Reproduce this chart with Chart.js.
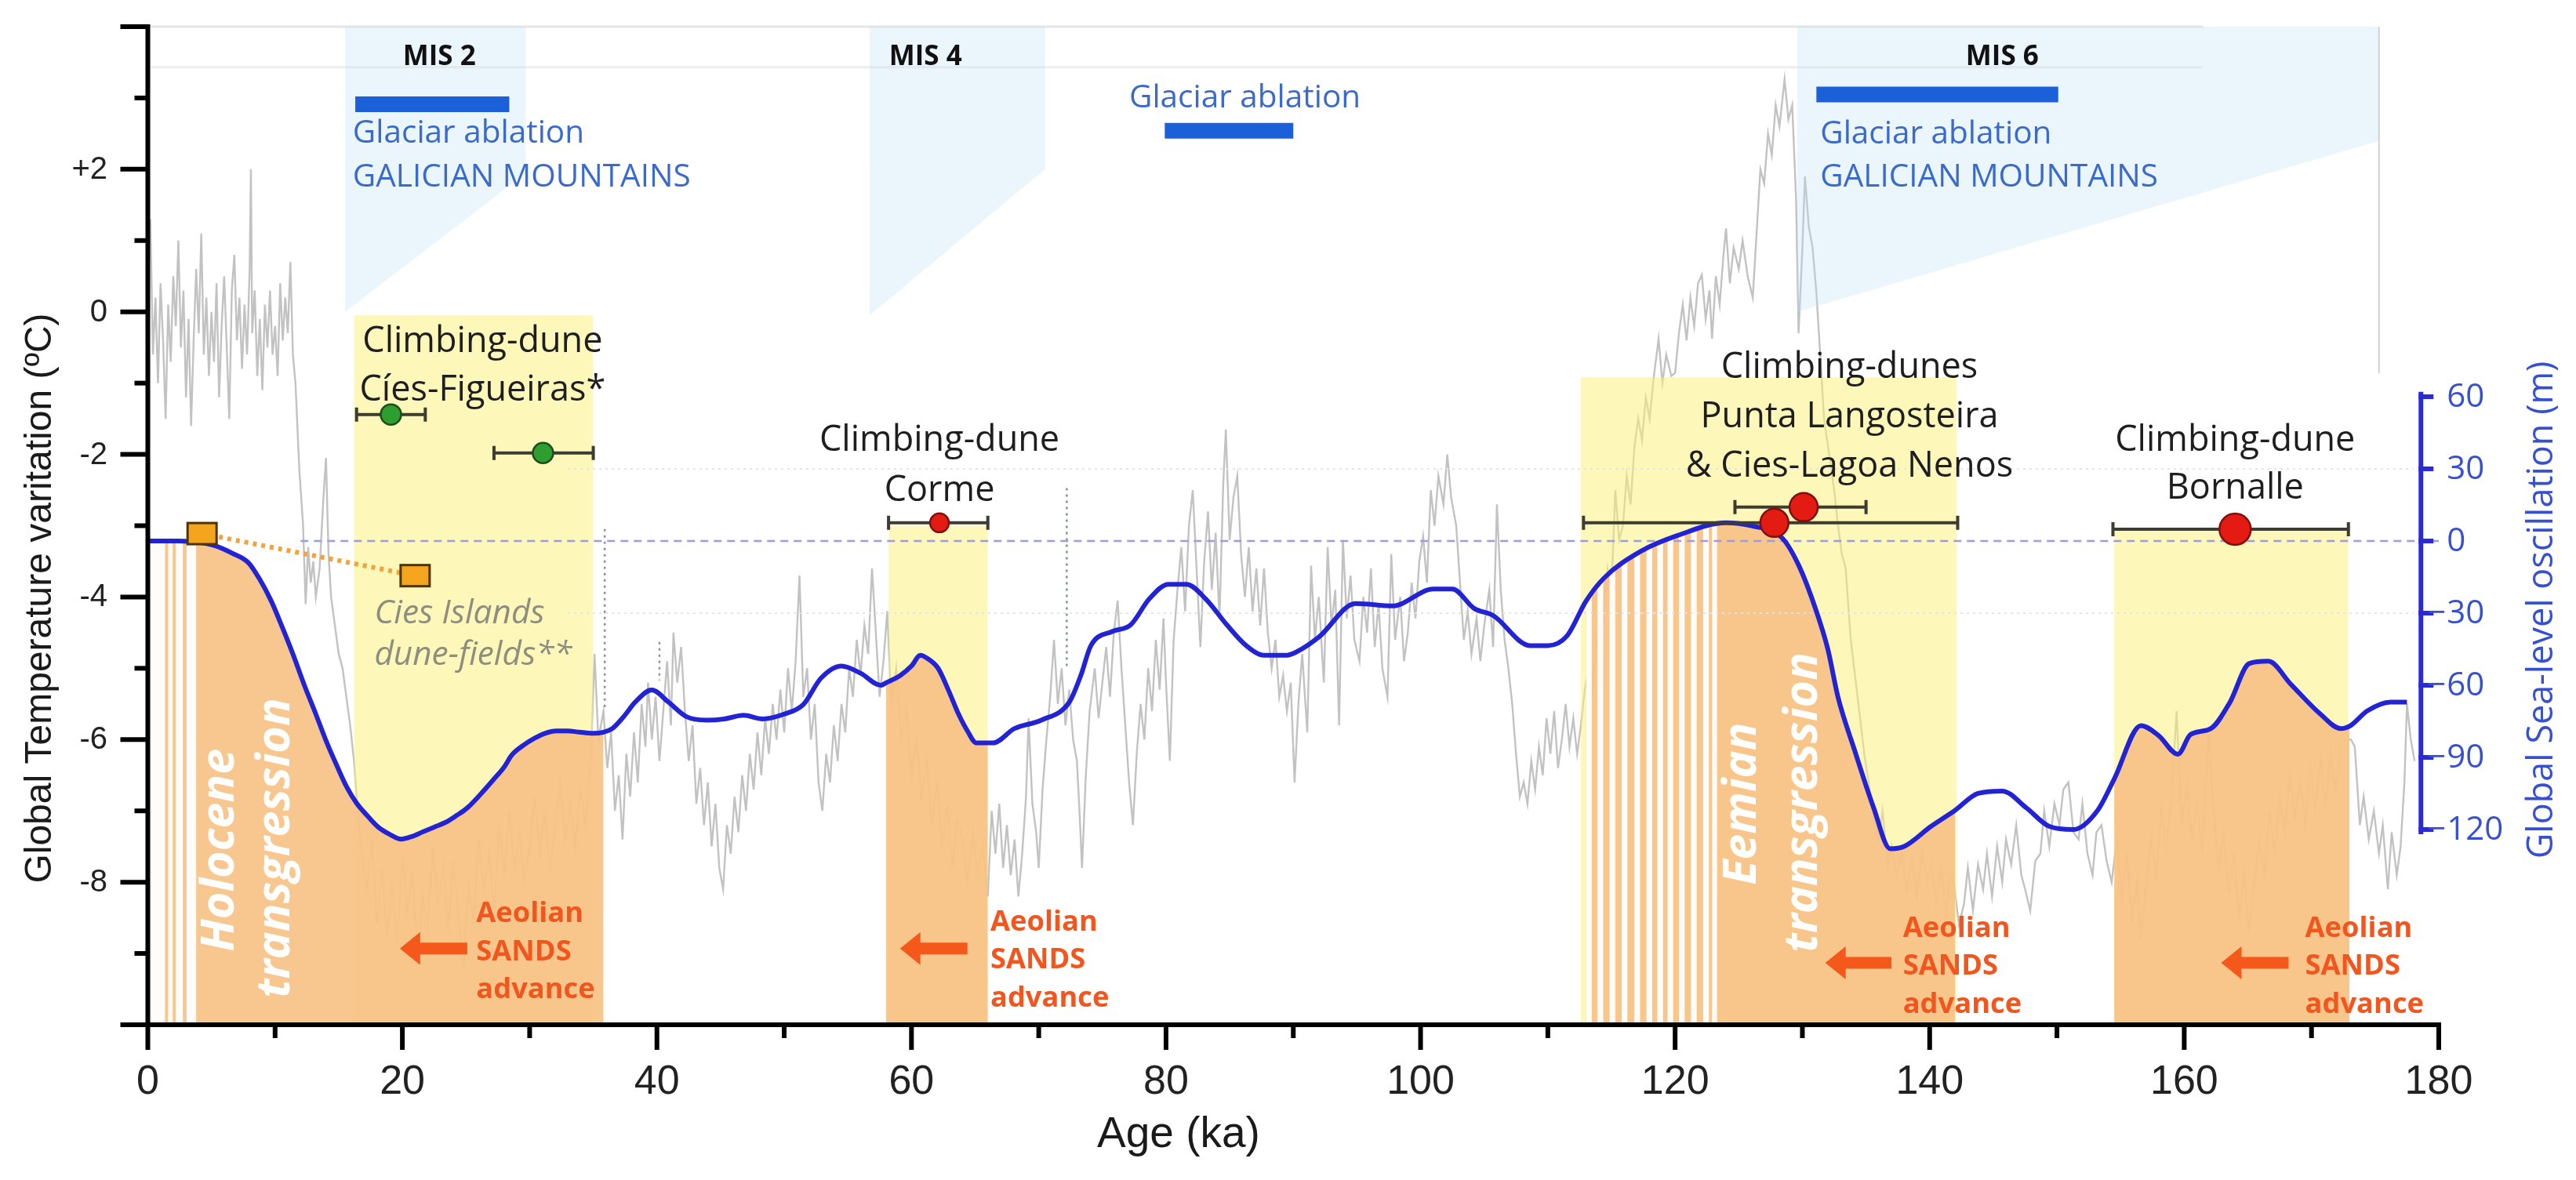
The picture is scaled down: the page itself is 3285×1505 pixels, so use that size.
<!DOCTYPE html>
<html><head><meta charset="utf-8">
<script src="https://cdn.jsdelivr.net/npm/chart.js@4.4.0/dist/chart.umd.min.js"></script>
<style>html,body{margin:0;padding:0;background:#fff;overflow:hidden}canvas{display:block}</style>
</head><body>
<canvas id="c" width="3285" height="1505"></canvas>
<script>
// ================= DATA =================
// Global temperature variation (ºC) vs age (ka) - grey curve
const tempSeries = [
[0.0,0.3],[0.2,1.3],[0.4,-0.6],[0.6,0.2],[0.8,-1.0],[1.0,0.4],[1.2,-0.4],[1.4,-1.5],[1.6,0.1],[1.8,-0.7],[2.0,0.5],[2.2,-0.2],[2.4,1.0],[2.6,-0.5],[2.8,0.3],[3.0,-1.2],[3.2,-0.1],[3.4,-1.6],[3.6,-0.4],[3.8,0.6],[4.0,-0.3],[4.2,1.1],[4.4,-0.6],[4.6,0.2],[4.8,-0.9],[5.0,0.0],[5.2,-0.7],[5.4,0.4],[5.6,-1.2],[5.8,-0.2],[6.0,0.5],[6.2,-0.5],[6.4,-1.5],[6.6,0.3],[6.8,0.8],[7.0,-0.4],[7.2,0.2],[7.4,-0.8],[7.6,0.1],[7.8,-0.6],[8.0,0.6],[8.1,2.0],[8.2,-0.3],[8.4,0.3],[8.6,-0.9],[8.8,-0.1],[9.0,-1.1],[9.2,0.1],[9.4,-0.5],[9.6,0.3],[9.8,-0.6],[10.0,-0.2],[10.2,-0.9],[10.4,0.4],[10.6,-0.4],[10.8,0.2],[11.0,-0.3],[11.2,0.7],[11.4,-0.6],
[11.6,-1.0],[11.9,-2.2],[12.2,-3.0],[12.4,-4.1],[12.6,-3.3],[12.8,-3.8],[13.0,-3.5],[13.2,-4.0],[13.5,-3.6],[13.8,-2.6],[14.0,-2.05],[14.2,-3.4],[14.4,-4.0],[14.7,-4.4],[15.0,-4.8],[15.3,-5.0],[15.6,-5.4],[15.9,-5.8],[16.2,-6.3],[16.5,-7.0],[16.8,-7.6],
[17.2,-8.1],[17.6,-7.4],[18.0,-8.6],[18.4,-7.8],[18.8,-8.8],[19.2,-8.0],[19.6,-8.9],[20.0,-7.6],[20.4,-8.4],[20.8,-7.9],[21.2,-9.0],[21.6,-8.2],[22.0,-8.6],[22.4,-7.5],[22.8,-8.3],[23.2,-7.8],[23.6,-8.7],[24.0,-7.7],[24.4,-8.5],[24.8,-9.2],[25.2,-8.0],[25.6,-8.6],[26.0,-7.4],[26.4,-8.1],[26.8,-7.6],[27.2,-8.4],[27.6,-7.2],[28.0,-7.9],[28.4,-7.0],[28.8,-7.8],[29.2,-7.3],[29.6,-8.0],[30.0,-7.5],[30.4,-6.8],[30.8,-7.6],[31.2,-7.0],[31.6,-7.9],[32.0,-7.2],[32.4,-6.6],[32.8,-7.4],[33.2,-6.9],[33.6,-7.5],[34.0,-6.7],[34.4,-7.2],[34.8,-6.3],[35.1,-4.8],[35.4,-6.0],
[35.8,-5.6],[36.1,-6.4],[36.4,-5.9],[36.7,-7.0],[37.0,-6.5],[37.3,-7.4],[37.6,-6.2],[37.9,-6.8],[38.2,-5.9],[38.5,-6.6],[38.8,-5.5],[39.1,-6.1],[39.3,-5.2],[39.6,-6.0],[39.9,-5.4],[40.2,-6.3],[40.5,-5.6],[40.8,-4.9],[41.1,-5.8],[41.3,-4.5],[41.6,-5.2],[41.9,-4.7],[42.2,-5.6],[42.5,-6.3],[42.8,-5.8],[43.1,-6.9],[43.4,-6.4],[43.7,-7.2],
[44.0,-6.6],[44.3,-7.5],[44.6,-6.9],[44.9,-7.8],[45.2,-8.1],[45.5,-7.2],[45.8,-7.6],[46.1,-6.8],[46.4,-7.3],[46.7,-6.5],[47.0,-7.0],[47.3,-6.2],[47.6,-6.7],[47.9,-5.9],[48.2,-6.5],[48.5,-5.7],[48.8,-6.2],[49.1,-5.5],[49.4,-6.0],[49.7,-5.3],[50.0,-5.9],[50.3,-5.0],[50.6,-5.6],[50.9,-4.9],[51.2,-3.7],[51.5,-5.4],[51.8,-5.0],[52.1,-6.0],[52.4,-5.5],[52.7,-6.6],[53.0,-7.0],[53.3,-6.2],[53.6,-6.6],[53.9,-5.8],[54.2,-6.3],[54.5,-5.5],[54.8,-5.9],[55.1,-5.0],[55.4,-5.4],[55.7,-4.6],[56.0,-5.1],[56.3,-4.4],[56.6,-4.8],[56.9,-3.6],[57.2,-4.5],[57.5,-5.4],[57.8,-4.9],[58.1,-4.2],
[58.4,-5.5],[58.8,-5.0],[59.2,-6.0],[59.6,-5.6],[60.0,-6.5],[60.4,-6.0],[60.8,-6.8],[61.2,-6.3],[61.6,-7.2],[62.0,-6.6],[62.4,-7.5],[62.8,-6.9],[63.2,-7.8],[63.6,-7.1],[64.0,-7.4],[64.4,-8.0],[64.8,-7.3],[65.2,-7.9],[65.6,-7.5],[66.0,-8.2],
[66.3,-7.0],[66.6,-7.6],[66.9,-6.9],[67.2,-7.8],[67.5,-7.2],[67.8,-7.9],[68.1,-7.4],[68.4,-8.2],[68.7,-7.6],[69.0,-6.8],[69.2,-5.7],[69.5,-6.9],[69.8,-7.3],[70.0,-7.8],[70.3,-6.7],[70.6,-6.0],[70.9,-5.4],[71.2,-4.6],[71.5,-5.5],[71.8,-5.0],[72.1,-5.8],[72.4,-5.3],[72.7,-6.0],[73.0,-6.3],[73.2,-7.0],[73.4,-7.8],[73.7,-6.5],[74.0,-5.6],[74.4,-5.0],[74.7,-5.7],[75.0,-5.2],[75.3,-4.7],[75.6,-5.4],[75.9,-4.5],[76.2,-4.05],[76.5,-5.0],[76.8,-5.8],[77.1,-6.6],[77.4,-7.2],[77.7,-6.2],[78.0,-5.5],[78.3,-6.0],[78.6,-5.0],[78.9,-5.6],[79.2,-4.6],[79.5,-5.3],[79.8,-4.3],[80.0,-5.2],[80.3,-6.3],[80.6,-4.6],[80.9,-3.9],[81.2,-3.3],[81.5,-4.2],[81.8,-3.0],[82.1,-2.5],[82.4,-3.6],[82.7,-4.7],[83.0,-3.5],[83.3,-2.8],[83.6,-3.9],[83.9,-3.1],[84.2,-4.3],[84.5,-2.4],[84.7,-1.65],[85.0,-3.2],[85.3,-2.6],[85.6,-2.3],[85.9,-3.4],[86.2,-4.0],[86.5,-3.3],[86.8,-4.2],[87.1,-3.6],[87.4,-4.4],[87.7,-3.6],[88.0,-4.5],[88.3,-5.0],[88.6,-4.6],[88.9,-5.4],[89.2,-5.1],[89.5,-5.6],
[89.8,-5.2],[90.1,-6.6],[90.4,-5.5],[90.7,-4.8],[91.1,-5.9],[91.4,-3.56],[91.7,-4.6],[92.0,-4.0],[92.4,-5.2],[92.7,-3.3],[93.0,-4.4],[93.3,-3.9],[93.6,-5.8],[93.9,-3.2],[94.2,-4.3],[94.5,-3.7],[94.8,-4.6],[95.2,-4.9],[95.5,-4.0],[95.8,-4.5],[96.1,-3.6],[96.4,-4.7],[96.7,-4.1],[97.0,-5.0],[97.4,-5.4],[97.7,-3.4],[98.0,-4.6],[98.4,-4.0],[98.7,-4.9],[99.0,-4.5],[99.3,-3.8],[99.6,-4.3],[99.9,-3.5],[100.2,-3.15],[100.5,-3.8],[100.8,-2.5],[101.1,-3.0],[101.4,-2.3],[101.8,-2.7],[102.1,-2.0],[102.4,-2.6],[102.8,-3.0],[103.1,-3.8],[103.4,-4.6],[103.7,-4.2],[104.0,-4.8],[104.4,-4.3],[104.7,-4.9],[105.0,-4.4],[105.4,-3.9],[105.7,-4.7],[106.0,-2.7],[106.3,-3.9],[106.6,-4.6],[106.9,-5.0],[107.2,-5.5],[107.5,-6.2],[107.8,-6.8],[108.1,-6.6],[108.4,-6.9],[108.7,-6.3],[109.0,-6.7],[109.3,-6.1],[109.6,-6.5],[109.9,-5.7],[110.2,-6.2],[110.5,-5.6],[110.8,-6.4],[111.1,-6.0],[111.4,-5.5],[111.7,-6.1],[112.0,-5.7],[112.3,-6.2],[112.6,-5.8],[112.9,-5.3],
[113.2,-5.0],[113.5,-5.4],[113.8,-4.6],[114.1,-4.9],[114.4,-4.2],[114.7,-3.6],[115.0,-3.9],[115.3,-2.5],[115.6,-3.2],[115.9,-3.0],[116.2,-2.3],[116.5,-2.7],[116.8,-1.9],[117.1,-1.5],[117.4,-1.8],[117.7,-1.2],[118.0,-1.5],[118.3,-0.95],[118.7,-0.38],[119.0,-1.0],[119.3,-0.6],[119.7,-0.9],[120.0,-0.86],[120.3,-0.3],[120.6,0.1],[120.9,-0.4],[121.2,0.2],[121.5,-0.2],[121.8,0.4],[122.1,0.52],[122.4,-0.1],[122.7,0.3],[122.9,-0.38],[123.2,0.5],[123.5,0.1],[123.8,0.8],[124.0,1.17],[124.3,0.4],[124.6,0.9],[125.0,0.6],[125.3,1.0],[125.7,0.5],[126.1,0.2],[126.4,1.1],[126.7,2.0],[127.0,1.8],[127.3,2.5],[127.6,2.2],[127.9,2.9],[128.2,2.6],[128.6,3.26],[128.9,2.7],[129.2,2.9],[129.5,1.6],[129.7,-0.3],[130.0,0.9],[130.2,1.9],[130.5,1.2],[130.8,0.9],[131.1,0.27],[131.4,-0.6],[131.7,-1.5],[132.1,-2.0],[132.5,-2.5],[132.8,-3.0],[133.1,-3.4],[133.4,-3.6],[133.8,-4.6],
[134.2,-5.2],[134.6,-5.8],[134.9,-6.25],[135.3,-6.7],[135.6,-7.1],[136.0,-7.4],[136.3,-7.0],[136.7,-7.8],[137.0,-7.5],[137.4,-7.9],[137.8,-7.6],[138.2,-8.1],[138.6,-7.7],[139.0,-8.2],[139.4,-7.6],[139.8,-8.0],[140.1,-7.75],[140.5,-8.3],[140.9,-7.8],[141.3,-8.5],[141.6,-7.9],[141.9,-8.0],[142.3,-8.6],[142.7,-8.3],[143.0,-7.8],[143.4,-8.4],[143.8,-7.75],[144.2,-8.1],[144.5,-7.6],[144.9,-8.2],[145.3,-7.5],[145.7,-8.0],[146.0,-7.4],[146.4,-7.75],[146.8,-7.2],[147.2,-7.9],[147.5,-8.1],[147.9,-8.4],[148.3,-7.7],[148.7,-7.6],[149.0,-7.0],[149.4,-7.5],[149.8,-6.9],[150.2,-7.2],[150.5,-6.7],[150.9,-6.6],[151.3,-7.3],[151.7,-7.4],[152.0,-6.9],[152.4,-7.6],[152.8,-7.9],[153.1,-7.3],[153.5,-7.2],[153.9,-7.7],[154.3,-8.0],
[154.7,-7.4],[155.1,-8.2],[155.5,-7.6],[155.9,-8.5],[156.3,-8.0],[156.6,-8.8],[157.0,-8.1],[157.4,-7.4],[157.8,-7.9],[158.2,-7.0],[158.6,-7.5],[159.0,-6.8],[159.4,-5.6],[159.8,-7.2],[160.2,-6.6],[160.6,-7.4],[161.0,-6.9],[161.4,-7.6],[161.9,-5.9],[162.3,-7.0],[162.7,-7.8],[163.1,-7.3],[163.5,-8.2],[163.9,-7.6],[164.3,-8.5],[164.7,-7.9],[165.1,-8.7],[165.5,-8.0],[165.9,-7.4],[166.3,-7.9],[166.7,-7.0],[167.1,-7.6],[167.5,-6.8],[167.9,-7.3],[168.3,-6.5],[168.7,-7.1],[169.1,-6.6],[169.5,-7.2],[169.9,-6.4],[170.3,-7.0],[170.7,-6.3],[171.1,-6.9],[171.5,-6.2],[171.9,-6.7],[172.3,-6.1],[172.7,-6.0],
[173.1,-6.0],[173.4,-6.1],[173.8,-7.2],[174.1,-6.8],[174.5,-7.4],[174.9,-7.0],[175.3,-7.6],[175.6,-7.2],[176.0,-8.1],[176.3,-7.3],[176.7,-7.9],[177.0,-7.5],[177.3,-6.6],[177.5,-5.5],[177.8,-6.0],[178.1,-6.3]
];
// Global sea-level oscillation (m) vs age (ka) - blue curve
const seaSeries = [
[0,0],[2.4,0],[4,-0.5],[5.3,-2],[6.6,-5],[7.9,-9],[8.8,-16],[9.7,-25],[10.5,-35],[11.4,-47],[12.3,-60],[13.2,-72],[14.0,-83],[14.9,-94],[15.6,-102],[16.4,-109],[17.2,-114],[18.1,-119],[19.0,-122],[19.9,-124],[20.7,-123],[21.6,-121],[22.5,-119],[23.4,-117],[24.3,-114],[25.1,-111],[26.2,-105],[27.2,-99],[28.0,-94],[28.6,-89],[29.5,-85],[30.4,-82],[31.2,-80],[32.1,-79],[33.0,-79],[33.9,-79.5],[35.0,-80],[35.8,-79.5],[36.5,-78],[37.4,-73],[38.3,-67],[39.6,-62],[40.9,-67],[42.3,-73],[43.9,-74.5],[45.3,-74],[46.8,-72.5],[48.3,-74],[50.0,-72],[51.5,-68],[52.9,-57],[54.5,-52],[56.0,-55],[57.6,-60],[58.0,-59],[59.1,-56],[60.0,-52],[60.7,-47.5],[61.3,-49],[62.1,-53],[62.9,-62],[63.7,-72],[64.4,-79],[65.1,-84],[66.0,-84],[66.4,-84],[68.1,-78],[70.2,-74.5],[72.4,-67],[73.3,-56],[74.1,-43.5],[75.8,-37.6],[77.2,-35],[78.7,-24],[80.2,-18],[81.6,-18],[83.1,-24],[84.8,-35],[86.3,-43.5],[87.7,-47.5],[89.5,-47.5],[90.3,-46],[92.0,-40],[94.9,-26],[97.8,-27],[101.0,-20],[102.5,-20],[104.2,-28],[105.7,-31],[108.6,-43.5],[110.0,-43.5],[111.5,-39.5],[113.0,-25],[114.4,-15.5],[117.3,-4.3],[120.2,2.3],[124.0,7.6],[126.0,6.3],[128.4,1.3],[129.7,-10],[131.0,-27.7],[132.0,-45],[132.8,-65],[134.1,-87],[135.6,-111],[136.9,-128],[138.0,-127],[140.1,-118.7],[142.0,-112],[143.8,-105],[145.7,-104],[147.6,-111],[149.4,-118.7],[151.3,-120],[153.2,-112],[154.5,-99],[156.6,-76.8],[158.0,-81],[159.5,-88.7],[160.5,-80.5],[162.1,-78],[163.6,-67],[165.1,-51],[166.6,-50],[168.4,-59.7],[170.7,-72],[172.3,-78],[173.0,-77],[174.4,-70.6],[176.2,-67],[177.5,-67]
];
const xTickLabels = [0,20,40,60,80,100,120,140,160,180];
const tempTickLabels = ['+2','0','-2','-4','-6','-8'];
const tempTickValues = [2,0,-2,-4,-6,-8];
const seaTickValues = [60,30,0,-30,-60,-90,-120];
// aeolian sand advance periods (ka)
const aeolianRanges = [[0,35.8],[58,66],[113,142],[154.5,173]];
// climbing-dune age windows: [from, to, upper level ºC]
const duneWindows = [[16.2,35.0,-0.05],[58.2,66.0,-3.0],[112.6,142.1,-0.92],[154.5,172.9,-3.08]];
// marine isotope stages: [from, to, lower edge at from, lower edge at to]
const misZones = [[15.5,29.7,0,1.95],[56.7,70.5,-0.05,2.0],[129.6,175.3,0,2.4]];
const misLabels = ['MIS 2','MIS 4','MIS 6'];
// glacier ablation periods: [from, to, level]
const glacierAblation = [[16.3,28.4,2.91],[79.9,90.0,2.54],[131.1,150.1,3.05]];
// Cíes-Figueiras ages: [age, min, max, level]
const ciesFigueirasAges = [[19.1,16.4,21.8,-1.44],[31.05,27.2,35.0,-1.98]];
// Corme, Punta Langosteira (2), Bornalle ages: [age, min, max, level]
const redAges = [[62.2,58.2,66.0,-2.96],[127.8,112.8,142.2,-2.96],[130.1,124.7,135.0,-2.74],[164.0,154.4,172.9,-3.05]];
// Cies Islands dune-fields ages: [age, level]
const ciesIslandsAges = [[4.26,-3.11],[21.0,-3.70]];
// transgression bands (white stripes, ka ranges)
const holoceneStripes = [[0,1.35],[1.6,1.95],[2.2,2.75],[3.05,3.8]];
const eemianStripes = [[113.0,113.45],[113.9,114.35],[114.85,115.3],[115.8,116.25],[116.8,117.25],[117.75,118.2],[118.6,119.05],[119.4,119.85],[120.3,120.75],[121.25,121.7],[122.2,122.65],[122.9,123.3]];

// ================= STYLE / BUILD =================
const P = a => a.map(p => ({x:p[0], y:p[1]}));
const redRadius = [12,18,18,20];
const datasets = [];
const base = {type:'line', pointRadius:0, borderWidth:0, fill:false, tension:0};

datasets.push({...base, data:[{x:0,y:4},{x:161.5,y:4}], yAxisID:'yT', borderColor:'#e6e6e6', borderWidth:3, order:130, clip:false});
datasets.push({...base, data:[{x:0,y:3.43},{x:161.5,y:3.43}], yAxisID:'yT', borderColor:'#eeeeee', borderWidth:3, order:130});
datasets.push({...base, data:[{x:175.3,y:4},{x:175.3,y:-0.86}], yAxisID:'yT', borderColor:'#d0d0d0', borderWidth:2, order:130});
datasets.push({...base, data:P(tempSeries), yAxisID:'yT', borderColor:'#c2c2c2', borderWidth:2.4, order:100});
duneWindows.forEach(w => datasets.push({...base, data:[{x:w[0],y:w[2]},{x:w[1],y:w[2]}], yAxisID:'yT', fill:'start', backgroundColor:'rgba(252,240,120,0.52)', order:90}));
misZones.forEach(z => datasets.push({...base, data:[{x:z[0],y:z[2]},{x:z[1],y:z[3]}], yAxisID:'yT', fill:'end', backgroundColor:'rgba(185,222,245,0.3)', order:85}));
aeolianRanges.forEach((r,i) => {
  const d = seaSeries.filter(p => p[0] >= r[0] && p[0] <= r[1]);
  const ds = {...base, data:P(d), yAxisID:'yS', fill:'start', backgroundColor:'rgba(247,193,133,0.92)', cubicInterpolationMode:'monotone', order:80};
  if (i === 0) ds.stripes = holoceneStripes;
  if (i === 2) ds.stripes = eemianStripes;
  datasets.push(ds);
});
datasets.push({...base, data:[{x:12,y:0},{x:180,y:0}], yAxisID:'yS', borderColor:'#9c9ce0', borderWidth:2.5, borderDash:[10,7], order:70});
datasets.push({...base, data:[{x:33,y:30},{x:178,y:30}], yAxisID:'yS', borderColor:'#e4e4e4', borderWidth:2, borderDash:[3,5], order:70});
datasets.push({...base, data:[{x:33,y:-30},{x:178,y:-30}], yAxisID:'yS', borderColor:'#e4e4e4', borderWidth:2, borderDash:[3,5], order:70});
datasets.push({...base, data:[{x:35.9,y:5},{x:35.9,y:-70}], yAxisID:'yS', borderColor:'#8f8f9f', borderWidth:2.5, borderDash:[3,5], order:70});
datasets.push({...base, data:[{x:40.2,y:-42},{x:40.2,y:-58}], yAxisID:'yS', borderColor:'#8f8f9f', borderWidth:2.5, borderDash:[3,5], order:70});
datasets.push({...base, data:[{x:72.2,y:22},{x:72.2,y:-53}], yAxisID:'yS', borderColor:'#6ea46e', borderWidth:2.5, borderDash:[3,5], order:70});
datasets.push({...base, data:P(seaSeries), yAxisID:'yS', borderColor:'#2323d6', borderWidth:6, cubicInterpolationMode:'monotone', order:50});
glacierAblation.forEach(g => datasets.push({...base, data:[{x:g[0],y:g[2]},{x:g[1],y:g[2]}], yAxisID:'yT', borderColor:'#1b5fd9', borderWidth:20, borderCapStyle:'butt', order:40}));
datasets.push({...base, data:P(ciesIslandsAges), yAxisID:'yT', borderColor:'#f2a33a', borderWidth:6, borderDash:[5,6], order:36});
[...ciesFigueirasAges, ...redAges].forEach(a => datasets.push({...base, data:[{x:a[1],y:a[3]},{x:a[2],y:a[3]}], yAxisID:'yT', borderColor:'#3c3c32', borderWidth:4, pointStyle:'line', pointRotation:90, pointRadius:9, pointBorderWidth:4, pointBorderColor:'#3c3c32', order:30}));
const sq = document.createElement('canvas'); sq.width = 42; sq.height = 32;
(function(){const c = sq.getContext('2d'); c.fillStyle='#f5a41e'; c.fillRect(2,2,38,28); c.strokeStyle='#4d3300'; c.lineWidth=3; c.strokeRect(2.5,2.5,37,27);})();
datasets.push({...base, showLine:false, data:P(ciesIslandsAges), yAxisID:'yT', pointStyle:sq, pointRadius:16, order:20});
datasets.push({...base, showLine:false, data:ciesFigueirasAges.map(a=>({x:a[0],y:a[3]})), yAxisID:'yT', pointStyle:'circle', pointRadius:13, pointBackgroundColor:'#2f9e31', pointBorderColor:'#1d4d1d', pointBorderWidth:2.5, order:20});
datasets.push({...base, showLine:false, data:redAges.map(a=>({x:a[0],y:a[3]})), yAxisID:'yT', pointStyle:'circle', pointRadius:redRadius, pointBackgroundColor:'#e41b12', pointBorderColor:'#7a1010', pointBorderWidth:2.5, order:20});

// ================= ANNOTATIONS (layout) =================
const OS = '"Open Sans", "DejaVu Sans", sans-serif';
const LS = '"Liberation Sans", Arial, sans-serif';
const fontGroups = {
  mis:   ['bold {s}px '+OS, 'MIS 6', 93],
  glac:  ['{s}px '+OS, 'GALICIAN MOUNTAINS', 431],
  dune:  ['{s}px '+OS, 'Climbing-dune', 306],
  cies:  ['italic {s}px '+OS, 'dune-fields**', 252],
  trans: ['italic bold {s}px '+OS, 'transgression', 383],
  aeol:  ['bold {s}px '+OS, 'Aeolian', 137]
};
const notes = [
  {t:misLabels[0], x:22.9, y:3.57, g:'mis', c:'#111', a:'center', b:'middle'},
  {t:misLabels[1], x:61.1, y:3.57, g:'mis', c:'#111', a:'center', b:'middle'},
  {t:misLabels[2], x:145.7, y:3.57, g:'mis', c:'#111', a:'center', b:'middle'},
  {t:'Glaciar ablation', x:16.1, y:2.37, g:'glac', c:'#3a6bcc', a:'left'},
  {t:'GALICIAN MOUNTAINS', x:16.1, y:1.76, g:'glac', c:'#3a6bcc', a:'left'},
  {t:'Glaciar ablation', x:86.2, y:2.87, g:'glac', c:'#3a6bcc', a:'center'},
  {t:'Glaciar ablation', x:131.4, y:2.36, g:'glac', c:'#3a6bcc', a:'left'},
  {t:'GALICIAN MOUNTAINS', x:131.4, y:1.76, g:'glac', c:'#3a6bcc', a:'left'},
  {t:'Climbing-dune', x:26.3, y:-0.56, g:'dune', c:'#1e1e1e', a:'center'},
  {t:'Cíes-Figueiras*', x:26.3, y:-1.25, g:'dune', c:'#1e1e1e', a:'center'},
  {t:'Climbing-dune', x:62.2, y:-1.95, g:'dune', c:'#1e1e1e', a:'center'},
  {t:'Corme', x:62.2, y:-2.65, g:'dune', c:'#1e1e1e', a:'center'},
  {t:'Climbing-dunes', x:133.7, y:-0.93, g:'dune', c:'#1e1e1e', a:'center'},
  {t:'Punta Langosteira', x:133.7, y:-1.62, g:'dune', c:'#1e1e1e', a:'center'},
  {t:'& Cies-Lagoa Nenos', x:133.7, y:-2.31, g:'dune', c:'#1e1e1e', a:'center'},
  {t:'Climbing-dune', x:164.0, y:-1.95, g:'dune', c:'#1e1e1e', a:'center'},
  {t:'Bornalle', x:164.0, y:-2.62, g:'dune', c:'#1e1e1e', a:'center'},
  {t:'Cies Islands', x:17.8, y:-4.37, g:'cies', c:'#8d8d80', a:'left'},
  {t:'dune-fields**', x:17.8, y:-4.95, g:'cies', c:'#8d8d80', a:'left'},
  {t:'Holocene', x:5.73, y:-7.55, g:'trans', c:'#ffffff', a:'center', b:'middle', r:true},
  {t:'transgression', x:10.07, y:-7.52, g:'trans', c:'#ffffff', a:'center', b:'middle', r:true},
  {t:'Eemian', x:125.3, y:-6.9, g:'trans', c:'#ffffff', a:'center', b:'middle', r:true},
  {t:'transgression', x:130.1, y:-6.88, g:'trans', c:'#ffffff', a:'center', b:'middle', r:true}
];
const aeolianNotes = [[25.8,[-8.56,-9.10,-9.63]],[66.2,[-8.68,-9.21,-9.75]],[137.9,[-8.77,-9.30,-9.84]],[169.5,[-8.77,-9.30,-9.84]]];
const aeolianWords = ['Aeolian','SANDS','advance'];
const arrows = [[19.8,25.1,-8.93],[59.1,64.4,-8.93],[131.8,137.0,-9.13],[162.9,168.2,-9.13]];

function groupFont(ctx, key){
  const g = fontGroups[key];
  if (!g.font) {
    ctx.save(); ctx.font = g[0].replace('{s}', 100);
    const w = ctx.measureText(g[1]).width; ctx.restore();
    g.font = g[0].replace('{s}', (100 * g[2] / w).toFixed(1));
  }
  return g.font;
}

const stripePlugin = {
  id:'stripes',
  afterDatasetDraw(chart, args){
    const ds = chart.data.datasets[args.index];
    if (!ds.stripes) return;
    const pts = args.meta.data, ca = chart.chartArea, xs = chart.scales.x, ctx = chart.ctx;
    ctx.save();
    ctx.beginPath(); ctx.rect(ca.left, ca.top, ca.right-ca.left, ca.bottom-ca.top); ctx.clip();
    ctx.beginPath(); ctx.moveTo(pts[0].x, ca.bottom);
    pts.forEach(p => ctx.lineTo(p.x, p.y));
    ctx.lineTo(pts[pts.length-1].x, ca.bottom); ctx.closePath(); ctx.clip();
    ctx.fillStyle = 'rgba(255,255,255,0.95)';
    ds.stripes.forEach(s => { const x0 = xs.getPixelForValue(s[0]), x1 = xs.getPixelForValue(s[1]); ctx.fillRect(x0, ca.top, x1 - x0, ca.bottom - ca.top); });
    ctx.restore();
  }
};

const annotPlugin = {
  id:'annot',
  afterDatasetsDraw(chart){
    const ctx = chart.ctx, xs = chart.scales.x, yT = chart.scales.yT;
    ctx.save();
    notes.forEach(n => {
      const px = xs.getPixelForValue(n.x), py = yT.getPixelForValue(n.y);
      ctx.font = groupFont(ctx, n.g); ctx.fillStyle = n.c; ctx.textAlign = n.a; ctx.textBaseline = n.b || 'alphabetic';
      if (n.r) { ctx.save(); ctx.translate(px, py); ctx.rotate(-Math.PI/2); ctx.fillText(n.t, 0, 0); ctx.restore(); }
      else ctx.fillText(n.t, px, py);
    });
    ctx.font = groupFont(ctx, 'aeol'); ctx.fillStyle = '#f0561e'; ctx.textAlign = 'left'; ctx.textBaseline = 'alphabetic';
    aeolianNotes.forEach(a => aeolianWords.forEach((w,i) => ctx.fillText(w, xs.getPixelForValue(a[0]), yT.getPixelForValue(a[1][i]))));
    ctx.fillStyle = '#f4581a';
    arrows.forEach(a => {
      const xt = xs.getPixelForValue(a[0]), xe = xs.getPixelForValue(a[1]), y = yT.getPixelForValue(a[2]);
      const hl = 26, hh = 21, sw = 7.5;
      ctx.beginPath(); ctx.moveTo(xt, y); ctx.lineTo(xt+hl, y-hh); ctx.lineTo(xt+hl, y-sw); ctx.lineTo(xe, y-sw);
      ctx.lineTo(xe, y+sw); ctx.lineTo(xt+hl, y+sw); ctx.lineTo(xt+hl, y+hh); ctx.closePath(); ctx.fill();
    });
    ctx.restore();
  }
};

const axesPlugin = {
  id:'axes',
  afterDraw(chart){
    const ctx = chart.ctx, xs = chart.scales.x, yT = chart.scales.yT, yS = chart.scales.yS, ca = chart.chartArea;
    ctx.save();
    ctx.strokeStyle = '#000'; ctx.lineWidth = 6; ctx.lineCap = 'butt';
    ctx.beginPath(); ctx.moveTo(ca.left, yT.getPixelForValue(4)-3); ctx.lineTo(ca.left, ca.bottom+3); ctx.stroke();
    for (let v = -10; v <= 4; v++) {
      const y = yT.getPixelForValue(v), len = (v % 2 === 0) ? 35 : 17;
      ctx.beginPath(); ctx.moveTo(ca.left, y); ctx.lineTo(ca.left - len, y); ctx.stroke();
    }
    ctx.beginPath(); ctx.moveTo(ca.left, ca.bottom); ctx.lineTo(xs.getPixelForValue(180)+3, ca.bottom); ctx.stroke();
    for (let k = 0; k <= 180; k += 10) {
      const x = xs.getPixelForValue(k), len = (k % 20 === 0) ? 32 : 17;
      ctx.beginPath(); ctx.moveTo(x, ca.bottom); ctx.lineTo(x, ca.bottom + len); ctx.stroke();
    }
    const rx = xs.getPixelForValue(178.6);
    ctx.strokeStyle = '#2a2ad6';
    ctx.beginPath(); ctx.moveTo(rx, yS.getPixelForValue(62)); ctx.lineTo(rx, yS.getPixelForValue(-122)); ctx.stroke();
    seaTickValues.forEach(v => { const y = yS.getPixelForValue(v); ctx.beginPath(); ctx.moveTo(rx-3, y); ctx.lineTo(rx + 16, y); ctx.stroke(); });
    ctx.fillStyle = '#222'; ctx.font = '52px '+LS; ctx.textAlign = 'center'; ctx.textBaseline = 'middle';
    xTickLabels.forEach(k => ctx.fillText(String(k), xs.getPixelForValue(k), 1381));
    ctx.font = '40px '+LS; ctx.textAlign = 'right';
    tempTickValues.forEach((v,i) => ctx.fillText(tempTickLabels[i], 137, yT.getPixelForValue(v) + 1));
    ctx.fillStyle = '#3650d0'; ctx.font = '42px '+OS;
    seaTickValues.forEach(v => {
      const y = yS.getPixelForValue(v) + 1;
      ctx.textAlign = 'left'; ctx.fillText(String(Math.abs(v)), rx + 33, y);
      if (v < 0) { ctx.textAlign = 'right'; ctx.fillText('\u2212', rx + 32, y); }
    });
    ctx.fillStyle = '#1a1a1a'; ctx.font = '55px '+LS; ctx.textAlign = 'center'; ctx.textBaseline = 'alphabetic';
    ctx.fillText('Age (ka)', 1503, 1463);
    ctx.save(); ctx.translate(52, 763); ctx.rotate(-Math.PI/2); ctx.font = '48px '+LS; ctx.textBaseline = 'middle';
    ctx.fillText('Global Temperature varitation (ºC)', 0, 0); ctx.restore();
    ctx.save(); ctx.translate(3242, 778); ctx.rotate(-Math.PI/2); ctx.font = '45px '+OS; ctx.fillStyle = '#3650d0'; ctx.textBaseline = 'middle';
    ctx.fillText('Global Sea-level oscillation (m)', 0, 0); ctx.restore();
    ctx.restore();
  }
};

const hidden = {grid:{display:false, drawTicks:false}, border:{display:false}, ticks:{display:false}};
new Chart(document.getElementById('c'), {
  type:'line',
  data:{datasets},
  options:{
    responsive:false, animation:false, devicePixelRatio:1, events:[],
    layout:{padding:{top:34, left:0, right:0, bottom:0}},
    plugins:{legend:{display:false}, tooltip:{enabled:false}},
    scales:{
      x:{type:'linear', position:'bottom', min:0, max:180, ...hidden, afterFit(s){ s.height = 198; }},
      yT:{type:'linear', position:'left', min:-10, max:4, ...hidden, afterFit(s){ s.width = 188.5; }},
      yS:{type:'linear', position:'right', min:-201.2, max:213.9, ...hidden, afterFit(s){ s.width = 175; }}
    }
  },
  plugins:[stripePlugin, annotPlugin, axesPlugin]
});
</script>
</body></html>
